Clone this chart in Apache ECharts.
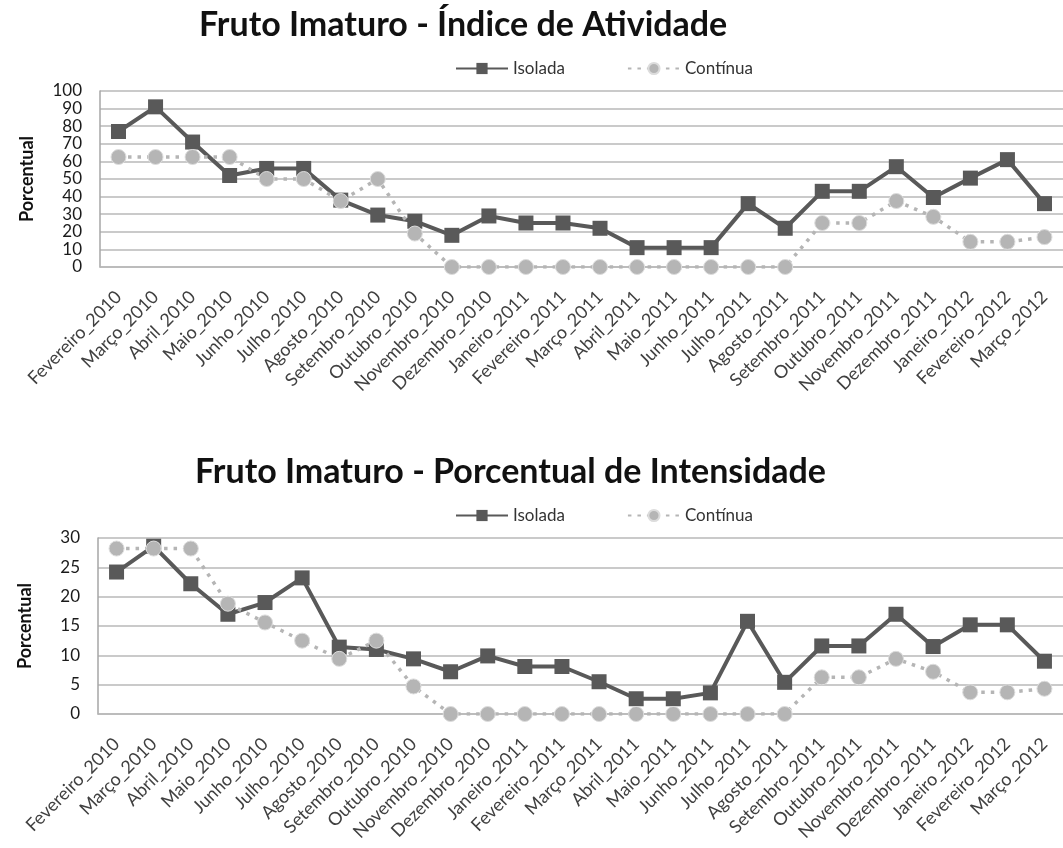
<!DOCTYPE html>
<html>
<head>
<meta charset="utf-8">
<script src="https://cdn.jsdelivr.net/npm/echarts@6/dist/echarts.min.js"></script>
<style>
  html, body { margin: 0; padding: 0; background: #fff; }
  #chart { width: 1063px; height: 848px; }
</style>
</head>
<body>
<div id="chart"></div>
<script>
const meses = [
  'Fevereiro_2010', 'Março_2010', 'Abril_2010', 'Maio_2010', 'Junho_2010', 'Julho_2010',
  'Agosto_2010', 'Setembro_2010', 'Outubro_2010', 'Novembro_2010', 'Dezembro_2010',
  'Janeiro_2011', 'Fevereiro_2011', 'Março_2011', 'Abril_2011', 'Maio_2011', 'Junho_2011',
  'Julho_2011', 'Agosto_2011', 'Setembro_2011', 'Outubro_2011', 'Novembro_2011',
  'Dezembro_2011', 'Janeiro_2012', 'Fevereiro_2012', 'Março_2012'
]

// Índice de Atividade (%)
const atividadeIsolada = [77, 91, 71, 52, 56, 56, 38, 29.5, 26, 18, 29, 25, 25, 22, 11, 11, 11, 36, 22, 43, 43, 57, 39.5, 50.5, 61, 36]
const atividadeContinua = [62.5, 62.5, 62.5, 62.5, 50, 50, 37.5, 50, 19, 0, 0, 0, 0, 0, 0, 0, 0, 0, 0, 25, 25, 37.5, 28.5, 14.3, 14.3, 17]

// Porcentual de Intensidade (%)
const intensidadeIsolada = [24.2, 28.6, 22.2, 17, 19, 23.2, 11.4, 11, 9.4, 7.2, 9.9, 8.1, 8.1, 5.5, 2.6, 2.6, 3.6, 15.8, 5.4, 11.6, 11.6, 17, 11.5, 15.2, 15.2, 9]
const intensidadeContinua = [28.2, 28.2, 28.2, 18.8, 15.6, 12.5, 9.4, 12.5, 4.7, 0, 0, 0, 0, 0, 0, 0, 0, 0, 0, 6.25, 6.25, 9.4, 7.2, 3.7, 3.7, 4.3]

const FONT = 'Lato, "Open Sans", sans-serif'
const escuro = '#595959'
const claro = '#b5b5b5'
const grade = '#b8b8b8'

const xAxisBase = (gridIndex) => ({
  type: 'category',
  gridIndex,
  data: meses,
  boundaryGap: true,
  axisTick: { show: false },
  axisLine: { lineStyle: { color: grade, width: 1.5 } },
  axisLabel: { rotate: 45, interval: 0, fontSize: 18, color: '#404040', fontFamily: FONT, margin: 27 }
})

const yAxisBase = (gridIndex, max, interval) => ({
  type: 'value',
  gridIndex,
  min: 0,
  max,
  interval,
  name: 'Porcentual',
  nameLocation: 'middle',
  nameGap: 64,
  nameTextStyle: { fontSize: 18, fontWeight: 'bold', color: '#111', fontFamily: FONT },
  axisLine: { show: true, lineStyle: { color: '#a6a6a6', width: 1.5 } },
  axisTick: { show: false },
  axisLabel: { fontSize: 17, color: '#1a1a1a', fontFamily: FONT, margin: 18 },
  splitLine: { lineStyle: { color: grade, width: 1.5 } }
})

const serieIsolada = (idx, data) => ({
  name: 'Isolada',
  type: 'line',
  xAxisIndex: idx,
  yAxisIndex: idx,
  data,
  symbol: 'rect',
  symbolSize: 15,
  lineStyle: { color: escuro, width: 4 },
  itemStyle: { color: escuro },
  emphasis: { disabled: true }
})

const serieContinua = (idx, data) => ({
  name: 'Contínua',
  type: 'line',
  xAxisIndex: idx,
  yAxisIndex: idx,
  data,
  symbol: 'circle',
  symbolSize: 15,
  lineStyle: { color: claro, width: 3.5, type: [3.5, 6] },
  itemStyle: { color: claro, borderColor: '#dcdcdc', borderWidth: 1 },
  emphasis: { disabled: true }
})

const legendBase = (top) => ({
  top,
  left: 450,
  itemWidth: 52,
  itemHeight: 14,
  itemGap: 62,
  textStyle: { fontSize: 17, color: '#333', fontFamily: FONT },
  data: ['Isolada', 'Contínua']
})

const chart = echarts.init(document.getElementById('chart'))
chart.setOption({
  animation: false,
  backgroundColor: '#fff',
  title: [
    { text: 'Fruto Imaturo - Índice de Atividade', left: 194, top: 3,
      textStyle: { fontSize: 34, fontWeight: 'bold', color: '#111', fontFamily: FONT } },
    { text: 'Fruto Imaturo - Porcentual de Intensidade', left: 190, top: 450,
      textStyle: { fontSize: 34, fontWeight: 'bold', color: '#111', fontFamily: FONT } }
  ],
  legend: [
    Object.assign(legendBase(55), { id: 'l0' }),
    Object.assign(legendBase(502), { id: 'l1' })
  ],
  grid: [
    { left: 100, top: 91, width: 975, height: 176 },
    { left: 98, top: 538, width: 975, height: 176 }
  ],
  xAxis: [xAxisBase(0), xAxisBase(1)],
  yAxis: [yAxisBase(0, 100, 10), yAxisBase(1, 30, 5)],
  series: [
    serieIsolada(0, atividadeIsolada),
    serieContinua(0, atividadeContinua),
    serieIsolada(1, intensidadeIsolada),
    serieContinua(1, intensidadeContinua)
  ]
})
</script>
</body>
</html>
